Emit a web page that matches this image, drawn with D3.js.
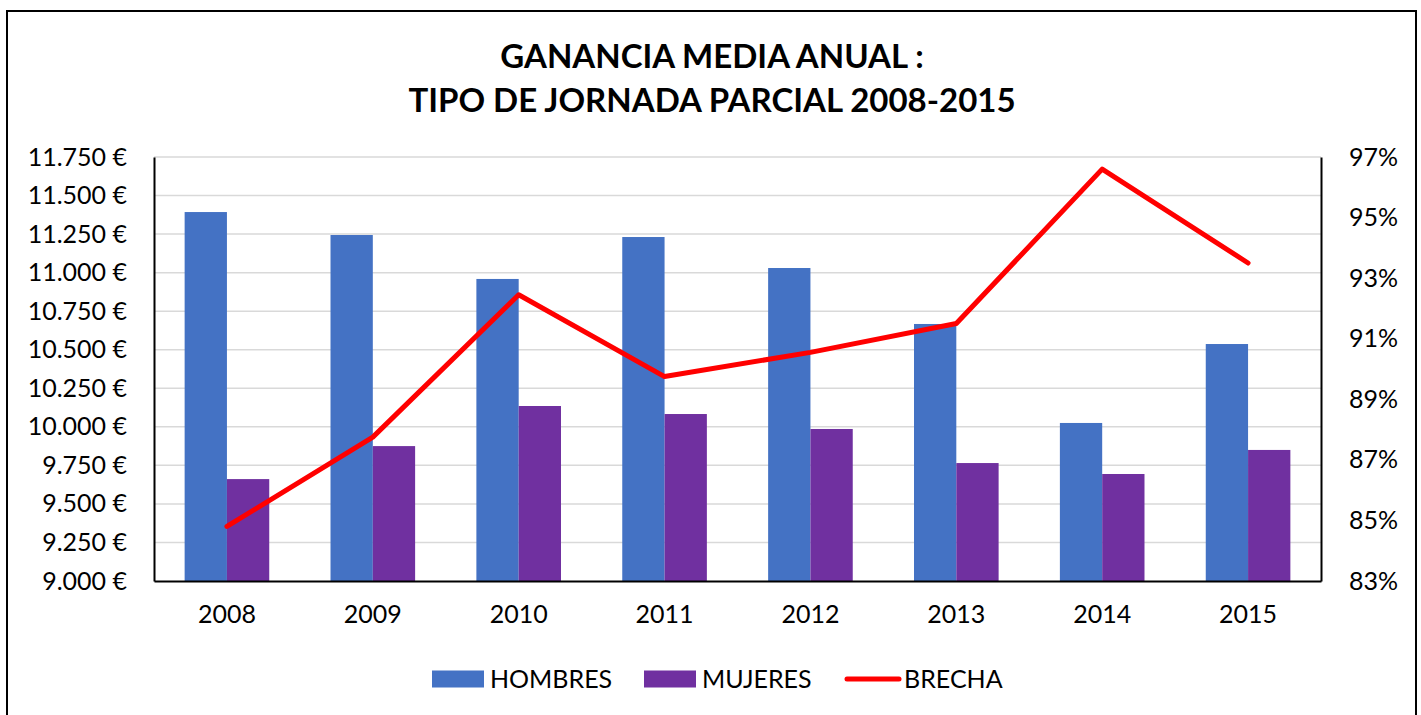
<!DOCTYPE html>
<html>
<head>
<meta charset="utf-8">
<script src="https://cdn.jsdelivr.net/npm/d3@7"></script>
<style>
  body { margin: 0; background: #fff; }
  svg { font-family: Lato, "Open Sans", sans-serif; }
</style>
</head>
<body>
<div id="chart"></div>
<script>
// data
const years = ["2008", "2009", "2010", "2011", "2012", "2013", "2014", "2015"];
const hombres = [11393, 11244, 10959, 11231, 11030, 10667, 10025, 10537];
const mujeres = [9661, 9875, 10135, 10083, 9986, 9765, 9694, 9850];
const brecha = [84.8, 87.75, 92.45, 89.75, 90.55, 91.5, 96.6, 93.5];
const leftTicks = [9000, 9250, 9500, 9750, 10000, 10250, 10500, 10750, 11000, 11250, 11500, 11750];
const rightTicks = [83, 85, 87, 89, 91, 93, 95, 97];
const titleLines = ["GANANCIA MEDIA ANUAL :", "TIPO DE JORNADA PARCIAL 2008-2015"];

const W = 1421, H = 715;
const margin = {top: 157, right: 100, bottom: 134, left: 154};
const width = 1321 - margin.left;
const height = 581 - margin.top;

const svg = d3.select("#chart").append("svg")
    .attr("width", W)
    .attr("height", H);

// outer frame (no bottom edge visible)
svg.append("path")
    .attr("d", "M7,716 L7,11 L1416,11 L1416,716")
    .attr("fill", "none")
    .attr("stroke", "#000")
    .attr("stroke-width", 2);

// title
svg.append("g").selectAll("text")
    .data(titleLines).enter()
    .append("text")
    .attr("x", 712)
    .attr("y", (d, i) => 68 + i * 44)
    .attr("text-anchor", "middle")
    .attr("font-size", 33)
    .attr("font-weight", "bold")
    .attr("fill", "#000")
    .text(d => d);

const chart = svg.append("g")
    .attr("transform", "translate(" + margin.left + "," + margin.top + ")");

const x = d3.scaleBand().domain(years).range([0, width]).paddingInner(0.42).paddingOuter(0.21);
const xSub = d3.scaleBand().domain(["h", "m"]).range([0, x.bandwidth()]);
const y = d3.scaleLinear().domain([9000, 11750]).range([height, 0]);
const y2 = d3.scaleLinear().domain([83, 97]).range([height, 0]);

// gridlines
chart.append("g").selectAll("line")
    .data(leftTicks.slice(1)).enter()
    .append("line")
    .attr("x1", 0).attr("x2", width)
    .attr("y1", d => y(d)).attr("y2", d => y(d))
    .attr("stroke", "#d9d9d9")
    .attr("stroke-width", 1.5);

// bars
const groups = chart.append("g").selectAll("g")
    .data(years).enter()
    .append("g")
    .attr("transform", d => "translate(" + x(d) + ",0)");

groups.append("rect")
    .attr("x", xSub("h"))
    .attr("width", xSub.bandwidth())
    .attr("y", (d, i) => y(hombres[i]))
    .attr("height", (d, i) => height - y(hombres[i]))
    .attr("fill", "#4472c4");

groups.append("rect")
    .attr("x", xSub("m"))
    .attr("width", xSub.bandwidth())
    .attr("y", (d, i) => y(mujeres[i]))
    .attr("height", (d, i) => height - y(mujeres[i]))
    .attr("fill", "#7030a0");

// brecha line
const line = d3.line()
    .x((d, i) => x(years[i]) + x.bandwidth() / 2)
    .y(d => y2(d));

chart.append("path")
    .datum(brecha)
    .attr("fill", "none")
    .attr("stroke", "#ff0000")
    .attr("stroke-width", 5)
    .attr("stroke-linecap", "round")
    .attr("stroke-linejoin", "round")
    .attr("d", line);

// axes
const euro = d => {
  const s = String(d);
  return s.slice(0, s.length - 3) + "." + s.slice(-3) + " €";
};
const yAxis = d3.axisLeft(y).tickValues(leftTicks).tickSize(0).tickPadding(27).tickFormat(euro);
const yAxis2 = d3.axisRight(y2).tickValues(rightTicks).tickSize(0).tickPadding(28)
    .tickFormat(d => d + "%");
const xAxis = d3.axisBottom(x).tickSize(0).tickPadding(24);

const gy = chart.append("g").call(yAxis);
const gy2 = chart.append("g").attr("transform", "translate(" + width + ",0)").call(yAxis2);
const gx = chart.append("g").attr("transform", "translate(0," + height + ")").call(xAxis);

[gy, gy2, gx].forEach(g => {
  g.select(".domain").attr("stroke", "#000").attr("stroke-width", 2);
  g.selectAll("text").attr("font-size", 25).attr("fill", "#000")
      .attr("font-family", "Lato, 'Open Sans', sans-serif");
});

// legend
const legend = svg.append("g").attr("transform", "translate(0,679)");
const legendItems = [
  {name: "HOMBRES", color: "#4472c4", type: "rect", x: 432},
  {name: "MUJERES", color: "#7030a0", type: "rect", x: 644},
  {name: "BRECHA", color: "#ff0000", type: "line", x: 846}
];
legendItems.forEach(it => {
  if (it.type === "rect") {
    legend.append("rect").attr("x", it.x).attr("y", -8.5).attr("width", 52).attr("height", 17).attr("fill", it.color);
  } else {
    legend.append("line").attr("x1", it.x + 1).attr("x2", it.x + 53).attr("y1", 0).attr("y2", 0)
        .attr("stroke", it.color).attr("stroke-width", 5).attr("stroke-linecap", "round");
  }
  legend.append("text")
      .attr("x", it.x + 58)
      .attr("y", 0)
      .attr("dy", "0.36em")
      .attr("font-size", 25)
      .attr("fill", "#000")
      .text(it.name);
});
</script>
</body>
</html>
